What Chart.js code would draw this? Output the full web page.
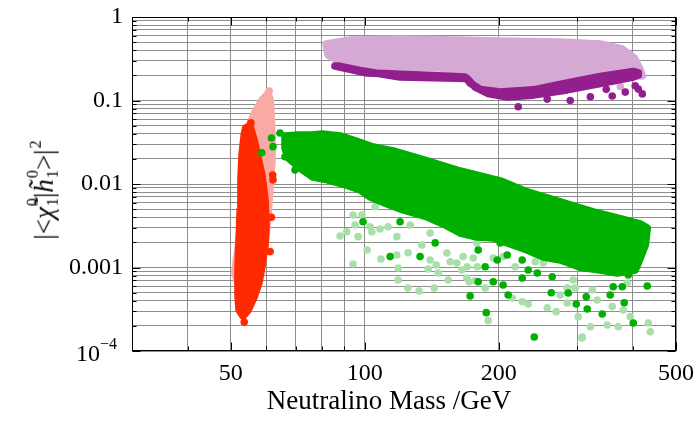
<!DOCTYPE html>
<html>
<head>
<meta charset="utf-8">
<script src="https://cdn.jsdelivr.net/npm/chart.js@4/dist/chart.umd.min.js"></script>
<style>
  html, body { margin: 0; padding: 0; background: #fff; }
  #wrap { position: relative; width: 698px; height: 430px; overflow: hidden; }
  #chart { position: absolute; left: 0; top: 0; }
  .axis-title { position: absolute; font-family: 'Liberation Serif', 'Times New Roman', serif; color: #000; white-space: nowrap; line-height: 1; }
  #ytitle { left: 43px; top: 190px; font-size: 27px; transform: translate(-50%, -50%) rotate(-90deg); }
  #xtitle { left: 389px; top: 400px; font-size: 27px; transform: translate(-50%, -50%); }
  .v { font-style: italic; }
  .ss { display: inline-block; vertical-align: -0.3em; font-size: 0.6em; line-height: 1.25; text-align: left; margin-left: 1px; }
  .ss span { display: block; }
  .sup2 { font-size: 0.6em; vertical-align: 0.75em; margin-left: 1px; }
</style>
</head>
<body>
<div id="wrap">
  <canvas id="chart" width="698" height="430"></canvas>
  <div class="axis-title" id="ytitle">|&lt;<span class="v">χ̃</span><span class="ss"><span>0</span><span>1</span></span>|<span class="v">h̃</span><span class="ss"><span>0</span><span>1</span></span>&gt;|<span class="sup2">2</span></div>
  <div class="axis-title" id="xtitle">Neutralino Mass /GeV</div>
</div>
<script>
// Axis grid and labels
const xGridMass = [30, 40, 50, 60, 70, 80, 90, 100, 200, 300, 400, 500];
const xLabelMass = [50, 100, 200, 500];
const yGridValues = [
  0.0001, 0.0002, 0.0003, 0.0004, 0.0005, 0.0006, 0.0007, 0.0008, 0.0009,
  0.001, 0.002, 0.003, 0.004, 0.005, 0.006, 0.007, 0.008, 0.009,
  0.01, 0.02, 0.03, 0.04, 0.05, 0.06, 0.07, 0.08, 0.09,
  0.1, 0.2, 0.3, 0.4, 0.5, 0.6, 0.7, 0.8, 0.9, 1
];
const yLabelValues = [0.0001, 0.001, 0.01, 0.1, 1];
const yLabelText = ['', '0.001', '0.01', '0.1', '1'];
// lowest decade is written as a power of ten
const yPowerBase = '10';
const yPowerExponent = '−4';

// Bino-like sample: dense cloud outline (light purple) and its lower edge band (dark purple)
const lightPurpleMass = [81.9, 92.7, 120.0, 142.4, 201.4, 274.8, 337.9, 378.6, 402.9, 415.7, 420.0, 375.0, 274.8, 223.4, 201.4, 181.6, 172.4, 147.6, 108.2, 88.0, 82.7];
const lightPurpleValue = [0.475, 0.530, 0.545, 0.538, 0.516, 0.502, 0.475, 0.414, 0.323, 0.232, 0.197, 0.202, 0.167, 0.141, 0.134, 0.153, 0.214, 0.245, 0.259, 0.289, 0.351];
const lightPurpleDotMass = [375.0];
const lightPurpleDotValue = [0.147];

const darkPurpleMass = [85.7, 101.2, 142.4, 168.1, 172.4, 181.6, 201.4, 239.0, 284.8, 337.9, 400.9, 411.4, 411.4, 400.9, 337.9, 284.8, 239.0, 208.9, 189.3, 177.0, 169.8, 120.0, 97.6, 87.1];
const darkPurpleValue = [0.259, 0.214, 0.199, 0.191, 0.162, 0.1355, 0.126, 0.134, 0.162, 0.194, 0.2225, 0.214, 0.202, 0.191, 0.160, 0.134, 0.116, 0.110, 0.1213, 0.145, 0.1835, 0.191, 0.229, 0.259];
const darkPurpleDotMass = [221.1, 256.9, 289.4, 321.1, 359.5, 384.6, 404.9, 420.0, 411.4, 348.6];
const darkPurpleDotValue = [0.0843, 0.104, 0.100, 0.111, 0.113, 0.126, 0.150, 0.120, 0.137, 0.136];

// Light neutralino strip near half the Z / h mass
const pinkMass = [60.6, 61.3, 61.6, 61.9, 61.9, 61.3, 60.6, 59.7, 58.5, 57.0, 55.3, 51.7, 51.1, 52.5, 53.3, 54.4, 56.7, 58.8];
const pinkValue = [0.120, 0.101, 0.067, 0.0386, 0.0194, 0.00973, 0.00425, 0.00186, 0.000933, 0.000538, 0.000408, 0.00067, 0.00089, 0.00281, 0.0194, 0.0443, 0.0728, 0.101];
const pinkDotMass = [61.0];
const pinkDotValue = [0.130];

const redMass = [55.2, 56.4, 57.6, 58.8, 59.7, 60.0, 59.7, 58.8, 57.9, 56.4, 54.7, 53.3, 52.2, 51.9, 51.9, 52.2, 52.5, 52.7, 53.0, 53.6, 54.0];
const redValue = [0.0495, 0.0336, 0.0205, 0.0125, 0.00643, 0.00323, 0.00186, 0.00107, 0.00067, 0.000444, 0.00031, 0.000262, 0.00031, 0.000469, 0.000933, 0.00213, 0.00489, 0.0112, 0.0222, 0.0386, 0.0469];
const redDotMass = [55.5, 55.3, 53.8, 62.1, 62.2, 61.7, 61.3, 53.6];
const redDotValue = [0.054, 0.042, 0.032, 0.0128, 0.0112, 0.004, 0.00155, 0.000222];

// Higgsino-like band (dark green) and sparse tail (light green)
const darkGreenMass = [66.2, 70.8, 76.1, 80.2, 88.0, 95.6, 104.4, 115.8, 138.1, 163.8, 181.6, 201.4, 231.6, 274.8, 325.8, 369.1, 415.7, 431.0, 426.5, 415.7, 404.9, 369.1, 337.9, 304.7, 274.8, 251.6, 231.6, 212.1, 194.3, 178.9, 163.8, 150.0, 138.1, 121.9, 112.3, 102.8, 97.6, 89.4, 82.3, 76.5, 71.6, 67.3, 66.2];
const darkGreenValue = [0.0376, 0.0386, 0.0386, 0.0397, 0.0376, 0.0327, 0.0277, 0.0249, 0.0189, 0.0143, 0.0125, 0.0109, 0.00802, 0.00609, 0.00462, 0.00392, 0.00332, 0.00297, 0.00186, 0.0013, 0.000933, 0.000859, 0.000933, 0.00101, 0.00123, 0.00134, 0.00162, 0.00191, 0.00226, 0.00232, 0.00259, 0.00332, 0.00403, 0.00489, 0.00576, 0.00699, 0.00848, 0.0100, 0.0112, 0.0121, 0.0155, 0.0205, 0.0270];
const darkGreenDotMass = [58.7, 61.7, 64.5, 62.2, 66.2, 69.7, 99.1, 114.0, 133.1, 143.9, 120.0, 179.8, 186.4, 194.3, 172.4, 187.4, 209.9, 204.5, 225.7, 244.0, 263.6, 262.3, 240.2, 286.4, 298.5, 315.9, 314.3, 341.4, 355.8, 361.4, 378.6, 382.5, 400.9, 431.0, 390.7, 208.9, 225.7, 232.8, 198.4, 201.4, 179.8];
const darkGreenDotValue = [0.0237, 0.0356, 0.0408, 0.028, 0.0212, 0.0147, 0.00353, 0.00135, 0.00135, 0.00197, 0.00353, 0.00162, 0.00102, 0.000676, 0.000456, 0.000288, 0.000469, 0.000617, 0.000748, 0.000859, 0.000776, 0.000499, 0.000147, 0.000495, 0.000366, 0.000318, 0.000447, 0.000277, 0.000469, 0.000589, 0.000589, 0.000379, 0.000216, 0.0006, 0.000813, 0.00141, 0.00123, 0.000933, 0.00123, 0.00197, 0.000676];

const lightGreenDotMass = [88.0, 91.1, 94.1, 98.5, 95.1, 96.6, 102.8, 103.7, 108.2, 112.8, 118.0, 101.2, 94.1, 108.7, 125.1, 118.0, 118.8, 118.8, 124.9, 132.4, 143.2, 134.3, 140.2, 138.8, 144.7, 146.2, 152.9, 153.9, 155.5, 165.2, 161.0, 169.5, 171.6, 189.3, 175.2, 178.5, 126.5, 140.2, 105.5, 166.3, 169.8, 178.9, 177.0, 186.4, 214.3, 225.7, 232.8, 256.9, 269.1, 274.8, 284.8, 296.9, 284.8, 301.5, 321.1, 307.8, 324.4, 350.5, 359.5, 370.9, 380.6, 394.8, 433.3, 437.8, 251.6, 217.6, 241.5, 293.9, 332.7, 337.9, 388.7, 415.7, 420.0, 194.3, 204.5, 307.4];
const lightGreenDotValue = [0.00238, 0.00268, 0.00425, 0.00425, 0.00323, 0.00234, 0.00308, 0.00268, 0.00289, 0.00308, 0.00234, 0.00162, 0.0011, 0.00126, 0.0015, 0.00141, 0.000987, 0.000708, 0.000568, 0.000523, 0.000568, 0.00186, 0.00123, 0.00096, 0.00107, 0.000859, 0.00149, 0.000708, 0.00117, 0.000933, 0.00113, 0.000748, 0.000676, 0.000231, 0.0013, 0.00197, 0.00323, 0.00259, 0.00535, 0.00135, 0.00102, 0.00102, 0.000695, 0.000568, 0.000431, 0.000389, 0.000366, 0.00033, 0.000296, 0.000469, 0.000568, 0.000568, 0.000376, 0.000258, 0.000195, 0.000147, 0.000538, 0.000205, 0.00034, 0.000195, 0.00031, 0.000258, 0.000216, 0.00017, 0.00113, 0.00102, 0.00117, 0.000708, 0.000408, 0.000933, 0.000652, 0.00162, 0.00213, 0.0013, 0.00135, 0.000143];

const COLORS = {
  lightPurple: '#d5a9d4',
  darkPurple: '#931f8f',
  pink: '#f9aaa5',
  red: '#ff2a00',
  darkGreen: '#00b000',
  lightGreen: '#aadfa9'
};

const DOT_RADIUS = 3.8;
const SERIF = "'Liberation Serif', 'Times New Roman', serif";

function points(xs, ys) {
  return xs.map((m, i) => ({ x: m, y: ys[i] }));
}

// closed outline of a dense cloud, filled and stroked with a dot-sized pen
function region(label, xs, ys, color, order) {
  const pts = points(xs, ys);
  pts.push(pts[0]);
  return {
    label, data: pts, order,
    showLine: true, fill: 'shape',
    backgroundColor: color, borderColor: color,
    borderWidth: DOT_RADIUS * 2, borderJoinStyle: 'round', borderCapStyle: 'round',
    pointRadius: 0, pointHoverRadius: 0
  };
}

function dots(label, xs, ys, color, order) {
  return {
    label, data: points(xs, ys), order,
    showLine: false, fill: false,
    backgroundColor: color, borderColor: color, borderWidth: 0,
    pointRadius: DOT_RADIUS, pointHoverRadius: DOT_RADIUS
  };
}

// frame, inward tick marks on all four sides, and the power-of-ten label
const frameTicks = {
  id: 'frameTicks',
  afterDatasetsDraw(chart) {
    const { ctx, chartArea: a, scales: { x, y } } = chart;
    const L = Math.round(a.left) + 0.5, R = Math.round(a.right) - 0.5;
    const T = Math.round(a.top) + 0.5, B = Math.round(a.bottom) - 0.5;
    ctx.save();
    ctx.strokeStyle = '#000';
    ctx.lineWidth = 1;
    ctx.beginPath();
    xGridMass.forEach(v => {
      const px = Math.round(x.getPixelForValue(v)) + 0.5;
      const len = xLabelMass.includes(v) ? 8 : 4;
      ctx.moveTo(px, B); ctx.lineTo(px, B - len);
      ctx.moveTo(px, T); ctx.lineTo(px, T + len);
    });
    yGridValues.forEach(v => {
      const py = Math.round(y.getPixelForValue(v)) + 0.5;
      const len = yLabelValues.includes(v) ? 8 : 4;
      ctx.moveTo(L, py); ctx.lineTo(L + len, py);
      ctx.moveTo(R, py); ctx.lineTo(R - len, py);
    });
    ctx.stroke();
    ctx.strokeRect(L, T, R - L, B - T);

    const py = y.getPixelForValue(yLabelValues[0]);
    ctx.fillStyle = '#000';
    ctx.textBaseline = 'middle';
    ctx.font = '24px ' + SERIF;
    ctx.textAlign = 'right';
    ctx.fillText(yPowerBase, a.left - 32, py + 4);
    ctx.font = '16px ' + SERIF;
    ctx.textAlign = 'left';
    ctx.fillText(yPowerExponent, a.left - 32, py - 6);
    ctx.restore();
  }
};

const tickFont = { family: SERIF, size: 24 };

new Chart(document.getElementById('chart'), {
  type: 'scatter',
  data: {
    datasets: [
      region('lightPurple', lightPurpleMass, lightPurpleValue, COLORS.lightPurple, 20),
      dots('lightPurpleDots', lightPurpleDotMass, lightPurpleDotValue, COLORS.lightPurple, 19),
      region('pink', pinkMass, pinkValue, COLORS.pink, 18),
      dots('pinkDots', pinkDotMass, pinkDotValue, COLORS.pink, 17),
      dots('lightGreenDots', lightGreenDotMass, lightGreenDotValue, COLORS.lightGreen, 16),
      region('darkPurple', darkPurpleMass, darkPurpleValue, COLORS.darkPurple, 15),
      dots('darkPurpleDots', darkPurpleDotMass, darkPurpleDotValue, COLORS.darkPurple, 14),
      region('red', redMass, redValue, COLORS.red, 13),
      dots('redDots', redDotMass, redDotValue, COLORS.red, 12),
      region('darkGreen', darkGreenMass, darkGreenValue, COLORS.darkGreen, 11),
      dots('darkGreenDots', darkGreenDotMass, darkGreenDotValue, COLORS.darkGreen, 10)
    ]
  },
  options: {
    responsive: false,
    animation: false,
    events: [],
    layout: { padding: { left: 0, right: 22, top: 17, bottom: 0 } },
    plugins: { legend: { display: false }, tooltip: { enabled: false } },
    scales: {
      x: {
        type: 'logarithmic',
        min: 30, max: 500,
        afterFit(scale) {
          scale.height = 79;
          scale.paddingLeft = 0; scale.paddingRight = 0;
        },
        afterBuildTicks(scale) { scale.ticks = xGridMass.map(v => ({ value: v })); },
        ticks: {
          autoSkip: false, maxRotation: 0, padding: 8,
          color: '#000', font: tickFont,
          callback: v => (xLabelMass.includes(v) ? String(v) : '')
        },
        grid: { color: '#8e8e8e', lineWidth: 1, drawTicks: false },
        border: { display: false }
      },
      y: {
        type: 'logarithmic',
        min: 0.0001, max: 1,
        afterFit(scale) {
          scale.width = 132;
          scale.paddingTop = 0; scale.paddingBottom = 0;
        },
        afterBuildTicks(scale) { scale.ticks = yGridValues.map(v => ({ value: v })); },
        ticks: {
          autoSkip: false, padding: 9,
          color: '#000', font: tickFont,
          callback: v => {
            const i = yLabelValues.indexOf(v);
            return i >= 0 ? yLabelText[i] : '';
          }
        },
        grid: { color: '#8e8e8e', lineWidth: 1, drawTicks: false },
        border: { display: false }
      }
    }
  },
  plugins: [frameTicks]
});
</script>
</body>
</html>
